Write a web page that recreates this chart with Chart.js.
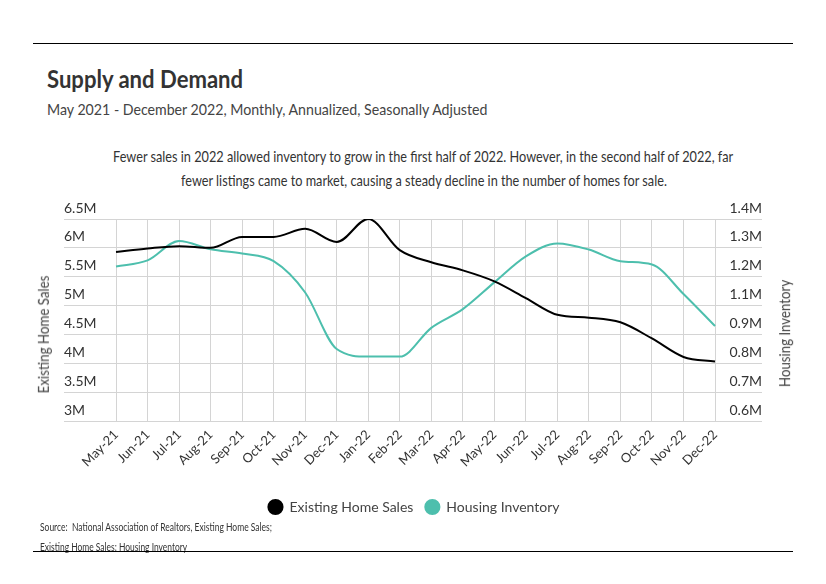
<!DOCTYPE html>
<html>
<head>
<meta charset="utf-8">
<script src="https://cdn.jsdelivr.net/npm/chart.js@4"></script>
<style>
  body { margin:0; background:#fff; font-family:Lato,'DejaVu Sans Condensed',sans-serif; color:#333; }
  #page { position:relative; width:826px; height:584px; overflow:hidden; }
  .rule { position:absolute; left:33px; width:760px; height:0; border-top:1.5px solid #000; }
  .txt { position:absolute; white-space:nowrap; line-height:1; transform-origin:0 0; }
  .vt { position:absolute; white-space:nowrap; line-height:1; font-size:15px; color:#444; }
  #chartBox { position:absolute; left:0; top:190px; width:826px; height:340px; }
</style>
</head>
<body>
<div id="page">
  <div class="rule" style="top:43px"></div>
  <div class="txt" data-w="196" style="left:47px; top:67px; font-size:24px; font-weight:bold; color:#333">Supply and Demand</div>
  <div class="txt" data-w="440" style="left:47px; top:101px; font-size:16px; color:#444">May 2021 - December 2022, Monthly, Annualized, Seasonally Adjusted</div>
  <div class="txt" data-w="620" style="left:113px; top:149px; font-size:15px; color:#333">Fewer sales in 2022 allowed inventory to grow in the first half of 2022. However, in the second half of 2022, far</div>
  <div class="txt" data-w="486" style="left:181px; top:173px; font-size:15px; color:#333">fewer listings came to market, causing a steady decline in the number of homes for sale.</div>
  <div id="chartBox"><canvas id="line-chart"></canvas></div>
  <div class="vt" id="leftTitle" data-w="118" style="left:43px; top:334px">Existing Home Sales</div>
  <div class="vt" id="rightTitle" data-w="107" style="left:784px; top:333px">Housing Inventory</div>
  <div class="txt" data-w="232" style="left:40px; top:522px; font-size:10.5px; color:#333">Source:&nbsp; National Association of Realtors, Existing Home Sales;</div>
  <div class="txt" data-w="147" style="left:40px; top:542px; font-size:10.5px; color:#333">Existing Home Sales: Housing Inventory</div>
  <div class="rule" style="top:551px"></div>
</div>
<script>
const months = ["May-21","Jun-21","Jul-21","Aug-21","Sep-21","Oct-21","Nov-21","Dec-21","Jan-22","Feb-22",
                "Mar-22","Apr-22","May-22","Jun-22","Jul-22","Aug-22","Sep-22","Oct-22","Nov-22","Dec-22"]

// millions
const homeSales = [5.93,5.99,6.03,6.00,6.19,6.19,6.33,6.10,6.50,5.96,
                   5.75,5.61,5.42,5.13,4.84,4.79,4.71,4.43,4.11,4.03]
const inventory = [1.212,1.236,1.313,1.280,1.263,1.233,1.109,0.885,0.855,0.855,
                   0.969,1.043,1.149,1.252,1.303,1.279,1.233,1.220,1.103,0.976]

const leftTickLabels = ["3M","3.5M","4M","4.5M","5M","5.5M","6M","6.5M"]
const rightTickLabels = ["0.6M","0.7M","0.8M","0.9M","1.1M","1.2M","1.3M","1.4M"]

// squeeze html text to the narrow widths of the original
document.querySelectorAll(".txt").forEach(el => {
  const s = el.dataset.w / el.offsetWidth
  el.style.transform = "scaleX(" + s + ")"
})
document.querySelectorAll(".vt").forEach(el => {
  const w = el.offsetWidth, h = el.offsetHeight
  const s = el.dataset.w / w
  el.style.left = (parseFloat(el.style.left) - w / 2) + "px"
  el.style.top = (parseFloat(el.style.top) - h / 2) + "px"
  el.style.transform = "rotate(-90deg) scaleX(" + s + ")"
})

const FONT = "Lato,'DejaVu Sans Condensed',sans-serif"
Chart.defaults.font.family = FONT
Chart.defaults.color = "#333"

const salesColor = "#000000"
const invColor = "#4dbfad"
const gridColor = "#d4d4d4"

const ctx = document.querySelector("#line-chart").getContext("2d")

const evenTicks = (labels) => (scale) => {
  const n = labels.length
  scale.ticks = labels.map((l, i) => ({ value: scale.min + (scale.max - scale.min) * i / (n - 1) }))
}

const lineChart = new Chart(ctx, {
  type: "line",
  data: {
    datasets: [
      {
        label: "Existing Home Sales",
        data: homeSales.map((v, i) => ({ x: i, y: v })),
        yAxisID: "y",
        borderColor: salesColor,
        backgroundColor: salesColor,
        borderWidth: 2,
        pointRadius: 0,
        pointStyle: "circle",
        cubicInterpolationMode: "monotone",
      },
      {
        label: "Housing Inventory",
        data: inventory.map((v, i) => ({ x: i, y: v })),
        yAxisID: "y1",
        borderColor: invColor,
        backgroundColor: invColor,
        borderWidth: 2,
        pointRadius: 0,
        pointStyle: "circle",
        cubicInterpolationMode: "monotone",
      },
    ],
  },
  options: {
    responsive: true,
    maintainAspectRatio: false,
    animation: false,
    layout: { padding: { left: 30, right: 28, top: 29, bottom: 6 } },
    plugins: {
      tooltip: { enabled: false },
      legend: {
        position: "bottom",
        labels: {
          usePointStyle: true,
          boxHeight: 10,
          padding: 12,
          font: { size: 14 },
          color: "#444",
        },
      },
    },
    scales: {
      x: {
        type: "linear",
        min: -1.65,
        max: 20.49,
        afterBuildTicks: (scale) => { scale.ticks = months.map((m, i) => ({ value: i })) },
        afterFit: (scale) => { scale.height = 67 },
        grid: { color: gridColor, drawTicks: false },
        border: { display: false },
        ticks: {
          autoSkip: false,
          minRotation: 45,
          maxRotation: 45,
          padding: 6,
          font: { size: 13 },
          callback: (v) => months[v],
        },
      },
      y: {
        position: "left",
        min: 3,
        max: 6.5,
        afterBuildTicks: evenTicks(leftTickLabels),
        afterFit: (scale) => { scale.width = 34 },
        grid: { color: gridColor, drawTicks: false },
        border: { display: false },
        ticks: {
          mirror: true,
          padding: 0,
          labelOffset: -11,
          font: { size: 14 },
          callback: (v, i) => leftTickLabels[i],
        },
      },
      y1: {
        position: "right",
        min: 0.6,
        max: 1.4,
        afterBuildTicks: evenTicks(rightTickLabels),
        afterFit: (scale) => { scale.width = 36 },
        grid: { display: false, drawTicks: false },
        border: { display: false },
        ticks: {
          mirror: true,
          padding: 0,
          labelOffset: -11,
          font: { size: 14 },
          callback: (v, i) => rightTickLabels[i],
        },
      },
    },
  },
})
</script>
</body>
</html>
